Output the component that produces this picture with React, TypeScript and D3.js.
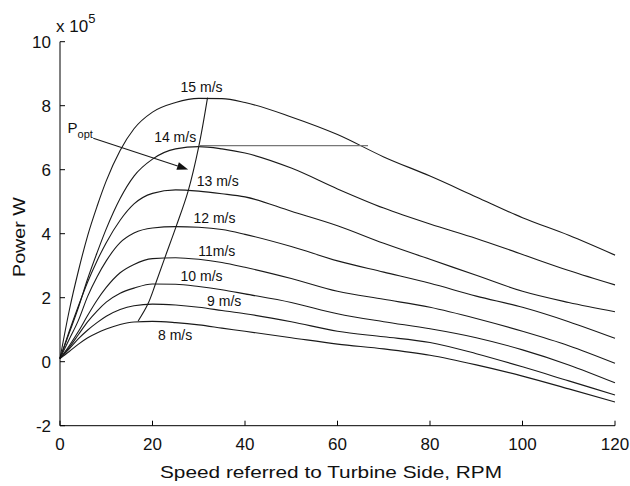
import React from "react";
import * as d3 from "d3";

// turbine-side speed (RPM) shared by every curve
const rpm = [0, 2, 4, 6, 8, 10, 13, 16, 20, 25, 30, 35, 40, 50, 60, 70, 80, 90, 100, 110, 120];

// power, x 10^5 W
const p15 = [0.1, 1.6, 2.85, 3.95, 4.85, 5.65, 6.6, 7.28, 7.8, 8.1, 8.23, 8.22, 8.1, 7.65, 7.1, 6.4, 5.8, 5.15, 4.5, 3.95, 3.33];
const p14 = [0.1, 0.9, 1.7, 2.6, 3.4, 4.15, 5.1, 5.8, 6.33, 6.65, 6.72, 6.65, 6.52, 6.05, 5.4, 4.8, 4.3, 3.85, 3.35, 2.85, 2.4];
const p13 = [0.1, 0.95, 1.75, 2.5, 3.15, 3.72, 4.42, 4.93, 5.26, 5.37, 5.33, 5.25, 5.15, 4.7, 4.25, 3.7, 3.2, 2.7, 2.2, 1.85, 1.56];
const p12 = [0.1, 0.7, 1.3, 2.05, 2.65, 3.15, 3.72, 4.02, 4.18, 4.22, 4.2, 4.13, 3.98, 3.6, 3.15, 2.8, 2.45, 2.05, 1.7, 1.25, 0.73];
const p11 = [0.1, 0.5, 0.95, 1.45, 1.92, 2.32, 2.78, 3.04, 3.22, 3.25, 3.2, 3.1, 2.95, 2.6, 2.2, 1.95, 1.7, 1.35, 0.95, 0.5, -0.05];
const p10 = [0.1, 0.45, 0.85, 1.25, 1.58, 1.86, 2.14, 2.3, 2.43, 2.42, 2.35, 2.25, 2.12, 1.85, 1.5, 1.25, 1.03, 0.75, 0.37, -0.1, -0.66];
const p9 = [0.1, 0.4, 0.72, 0.99, 1.22, 1.42, 1.63, 1.75, 1.8, 1.77, 1.7, 1.6, 1.5, 1.25, 0.95, 0.78, 0.6, 0.25, -0.16, -0.6, -1.04];
const p8 = [0.1, 0.32, 0.55, 0.75, 0.9, 1.02, 1.16, 1.24, 1.26, 1.22, 1.15, 1.05, 0.95, 0.75, 0.55, 0.4, 0.2, -0.1, -0.45, -0.85, -1.26];
const series = [p15, p14, p13, p12, p11, p10, p9, p8];

const windLabels = ["15 m/s", "14 m/s", "13 m/s", "12 m/s", "11m/s", "10 m/s", "9 m/s", "8 m/s"];
const labelRpm = [30.6, 24.9, 34.1, 33.4, 33.9, 30.6, 35.5, 24.9];
const labelPower = [8.43, 6.86, 5.49, 4.33, 3.3, 2.51, 1.74, 0.68];

// optimum power locus (peaks of the curves)
const optRpm = [16.9, 19.0, 20.7, 22.7, 25.1, 27.7, 30.0, 31.9];
const optPower = [1.27, 1.8, 2.45, 3.26, 4.22, 5.33, 6.72, 8.25];

// horizontal marker at the 14 m/s peak
const hLineRpm = [30, 66.6];
const hLinePower = 6.75;

// arrow from the Popt label
const arrowRpm = [7.2, 27.7];
const arrowPower = [6.98, 6.01];

const xTicks = [0, 20, 40, 60, 80, 100, 120];
const yTicks = [-2, 0, 2, 4, 6, 8, 10];

const font = "Arial, 'Liberation Sans', Helvetica, sans-serif";

export default function App() {
  const x = d3.scaleLinear().domain([0, 120]).range([60, 615]);
  const y = d3.scaleLinear().domain([-2, 10]).range([425.7, 41.7]);

  const line = d3
    .line<number>()
    .x((d, i) => x(rpm[i]))
    .y((d) => y(d))
    .curve(d3.curveMonotoneX);

  const optLine = d3
    .line<number>()
    .x((d, i) => x(optRpm[i]))
    .y((d) => y(d))
    .curve(d3.curveCatmullRom);

  const ax0 = x(arrowRpm[0]);
  const ay0 = y(arrowPower[0]);
  const ax1 = x(arrowRpm[1]);
  const ay1 = y(arrowPower[1]);
  const ang = Math.atan2(ay1 - ay0, ax1 - ax0);
  const hl = 11;
  const hw = 4;
  const bx = ax1 - hl * Math.cos(ang);
  const by = ay1 - hl * Math.sin(ang);
  const head = [
    [ax1, ay1],
    [bx - hw * Math.sin(ang), by + hw * Math.cos(ang)],
    [bx + hw * Math.sin(ang), by - hw * Math.cos(ang)],
  ];

  return (
    <svg
      width={630}
      height={486}
      style={{ position: "absolute", left: 0, top: 0, background: "#fff" }}
      fontFamily={font}
    >
      <rect width={630} height={486} fill="#fff" />

      {series.map((s, i) => (
        <path key={i} d={line(s) || ""} fill="none" stroke="#1a1a1a" strokeWidth={1.1} />
      ))}

      <path d={optLine(optPower) || ""} fill="none" stroke="#1a1a1a" strokeWidth={1.1} />
      <line
        x1={x(hLineRpm[0])}
        x2={x(hLineRpm[1])}
        y1={y(hLinePower)}
        y2={y(hLinePower)}
        stroke="#777"
        strokeWidth={1.2}
      />

      <line x1={ax0} y1={ay0} x2={bx} y2={by} stroke="#1a1a1a" strokeWidth={1.1} />
      <polygon points={head.map((p) => p.join(",")).join(" ")} fill="#111" />

      <text x={67.5} y={133} fontSize={15} fill="#111">
        P<tspan fontSize={11} dy={5}>opt</tspan>
      </text>

      {windLabels.map((t, i) => (
        <text
          key={t}
          x={x(labelRpm[i])}
          y={y(labelPower[i])}
          fontSize={14}
          textAnchor="middle"
          fill="#111"
        >
          {t}
        </text>
      ))}

      {/* axes */}
      <line x1={x(0)} x2={x(0)} y1={y(10)} y2={y(-2)} stroke="#000" strokeWidth={1} />
      <line x1={x(0)} x2={x(120)} y1={y(-2)} y2={y(-2)} stroke="#000" strokeWidth={1} />
      {yTicks.map((t) => (
        <g key={t}>
          <line x1={x(0)} x2={x(0) + 5} y1={y(t)} y2={y(t)} stroke="#000" />
          <text x={51} y={y(t) + 6} fontSize={17} textAnchor="end" fill="#111">
            {t}
          </text>
        </g>
      ))}
      {xTicks.map((t) => (
        <g key={t}>
          <line x1={x(t)} x2={x(t)} y1={y(-2)} y2={y(-2) - 5} stroke="#000" />
          <text x={x(t)} y={450} fontSize={17} textAnchor="middle" fill="#111">
            {t}
          </text>
        </g>
      ))}

      <text x={56} y={32} fontSize={17} fill="#111">
        x 10<tspan fontSize={13} dy={-9}>5</tspan>
      </text>

      <text
        x={160}
        y={478}
        fontSize={17}
        textLength={342}
        lengthAdjust="spacingAndGlyphs"
        fill="#111"
      >
        Speed referred to Turbine Side, RPM
      </text>
      <text
        transform={`translate(25, 277) rotate(-90)`}
        fontSize={17}
        textLength={80}
        lengthAdjust="spacingAndGlyphs"
        fill="#111"
      >
        Power W
      </text>
    </svg>
  );
}
